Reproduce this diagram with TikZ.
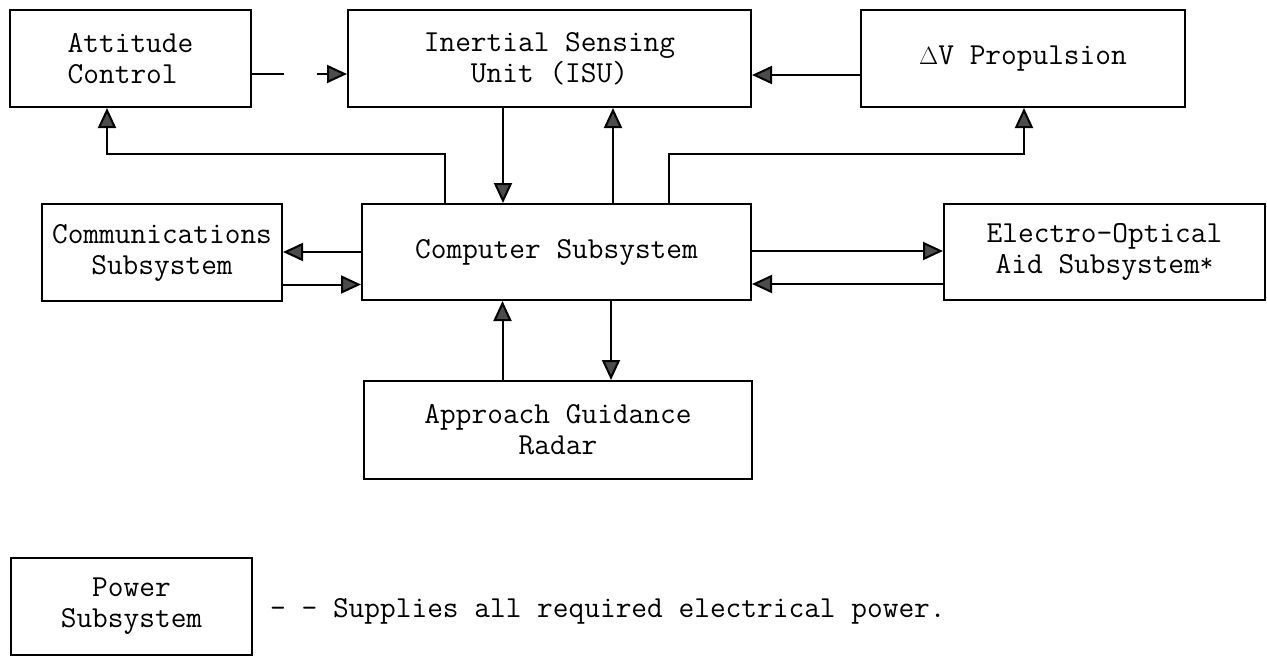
\documentclass[tikz,border=0pt]{standalone}
\usetikzlibrary{arrows.meta,calc}
\begin{document}
\begin{tikzpicture}[x=1pt,y=-1pt,
  box/.style={draw=black, line width=2pt, rectangle, inner sep=0pt, align=center,
    font=\ttfamily\fontsize{30.5}{31}\selectfont},
  arr/.style={line width=2pt, -{Triangle[length=20pt,width=18pt,fill=black!70]}},
  conn/.style={line width=2pt}]
\useasboundingbox (0,0) rectangle (1267,656);
\node[box, minimum width=241pt, minimum height=97pt, align=left] (att) at (130.5,58.5) {Attitude\\Control};
\node[box, minimum width=403pt, minimum height=97pt] (isu) at (549.5,58.5) {Inertial Sensing\\Unit (ISU)};
\node[box, minimum width=324pt, minimum height=97pt] (dv) at (1023,58.5) {$\Delta$V Propulsion};
\node[box, minimum width=240pt, minimum height=97pt] (comm) at (162,252.5) {Communications\\Subsystem};
\node[box, minimum width=389pt, minimum height=96pt] (comp) at (556.5,252) {Computer Subsystem};
\node[box, minimum width=321pt, minimum height=96pt] (eo) at (1104.5,252) {Electro-Optical\\Aid Subsystem\smash{\raisebox{2pt}{\fontsize{26}{26}\selectfont*}}};
\node[box, minimum width=388pt, minimum height=98pt] (radar) at (558,430) {Approach Guidance\\Radar};
\node[box, minimum width=241pt, minimum height=97pt] (power) at (131.5,606.5) {Power\\Subsystem};
\node[anchor=base west, inner sep=0pt, font=\ttfamily\fontsize{30.5}{31}\selectfont] (sup) at (270,617) {- - Supplies all required electrical power.};
% attitude -> ISU (dashed)
\draw[arr, dash pattern=on 32pt off 33pt] ([yshift=-15.5pt]att.east) -- ([yshift=-15.5pt]att.east -| isu.west);
% dV -> ISU
\draw[arr] ([yshift=-16.5pt]dv.west) -- ([yshift=-16.5pt]dv.west -| isu.east);
% ISU -> computer
\draw[arr] ([xshift=-46.5pt]isu.south) -- ([xshift=-46.5pt]isu.south |- comp.north);
% computer -> ISU
\draw[arr] ([xshift=56.5pt]comp.north) -- ([xshift=56.5pt]comp.north |- isu.south);
% computer -> attitude
\draw[arr] ([xshift=-111.5pt]comp.north) -- ++(0,-49) -| ([xshift=-23.5pt]att.south);
% computer -> dV
\draw[arr] ([xshift=112.5pt]comp.north) -- ++(0,-49) -| ([xshift=1pt]dv.south);
% computer <-> communications
\draw[arr] (comp.west) -- (comp.west -| comm.east);
\draw[arr] ([yshift=-32pt]comm.east) -- ([yshift=-32pt]comm.east -| comp.west);
% computer <-> electro-optical
\draw[arr] ([yshift=1pt]comp.east) -- ([yshift=1pt]comp.east -| eo.west);
\draw[arr] ([yshift=-32pt]eo.west) -- ([yshift=-32pt]eo.west -| comp.east);
% radar <-> computer
\draw[arr] ([xshift=-55.5pt]radar.north) -- ([xshift=-55.5pt]radar.north |- comp.south);
\draw[arr] ([xshift=54.5pt]comp.south) -- ([xshift=54.5pt]comp.south |- radar.north);
\end{tikzpicture}
\end{document}
